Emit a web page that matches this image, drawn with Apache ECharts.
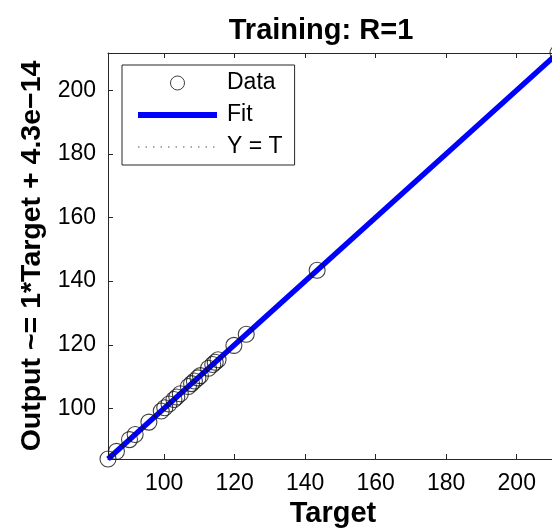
<!DOCTYPE html>
<html>
<head>
<meta charset="utf-8">
<script src="https://cdn.jsdelivr.net/npm/echarts@6/dist/echarts.min.js"></script>
<style>
html,body{margin:0;padding:0;background:#fff;}
#main{width:552px;height:528px;}
</style>
</head>
<body>
<div id="main"></div>
<script>
// ---- data ----
const titleText = 'Training: R=1';
const xName = 'Target';
const yName = 'Output ~= 1*Target + 4.3e\u221214';
const legendNames = ['Data', 'Fit', 'Y = T'];
const targets = [84.1, 86.5, 90.2, 91.8, 95.7, 99.2, 100.2, 101.4, 102.8, 103.6, 104.6, 106.9, 107.8, 108.6, 109.6, 110.3, 112.6, 113.8, 114.5, 115.3, 119.8, 123.3, 143.4, 211.7];
const outputs = [84.1, 86.5, 90.2, 91.8, 95.7, 99.2, 100.2, 101.4, 102.8, 103.6, 104.6, 106.9, 107.8, 108.6, 109.6, 110.3, 112.6, 113.8, 114.5, 115.3, 119.8, 123.3, 143.4, 211.7];
const fitSlope = 1;
const fitIntercept = 4.3e-14;

// ---- derived ----
const lo = Math.min(...targets, ...outputs);
const hi = Math.max(...targets, ...outputs);
const tMin = Math.min(...targets), tMax = Math.max(...targets);
const scatterData = targets.map((t, i) => [t, outputs[i]]);
const fitData = [[tMin, fitSlope * tMin + fitIntercept], [tMax, fitSlope * tMax + fitIntercept]];
const ytData = [[lo, lo], [hi, hi]];

const FONT = '"Liberation Sans", Arial, sans-serif';
const AX = '#262626';
const tickFmt = v => (Math.abs(v / 20 - Math.round(v / 20)) < 1e-6 ? String(Math.round(v)) : '');

const chart = echarts.init(document.getElementById('main'), null, {renderer: 'canvas'});
chart.setOption({
  animation: false,
  backgroundColor: '#fff',
  title: {
    text: titleText,
    left: 316, top: 11, textAlign: 'center',
    textStyle: {fontFamily: FONT, fontSize: 29, fontWeight: 'bold', color: '#000'}
  },
  legend: {
    orient: 'vertical',
    left: 122, top: 65,
    padding: [6, 12, 6, 13],
    itemWidth: 79, itemHeight: 14, itemGap: 8,
    backgroundColor: '#fff',
    borderColor: '#262626', borderWidth: 1, borderRadius: 0,
    selectedMode: false,
    textStyle: {fontFamily: FONT, fontSize: 23, color: '#000', lineHeight: 24, padding: [0, 0, 0, 5]},
    data: [
      {name: legendNames[0], icon: 'circle', itemStyle: {color: 'rgba(0,0,0,0)', borderColor: '#111', borderWidth: 1}},
      {name: legendNames[1], itemStyle: {opacity: 0}, lineStyle: {color: '#0000ff', width: 6}},
      {name: legendNames[2], itemStyle: {opacity: 0}, lineStyle: {color: '#555', width: 1, type: [1.5, 6]}}
    ]
  },
  grid: {left: 108, top: 53, bottom: 69, right: -6, containLabel: false, outerBoundsMode: 'none'},
  xAxis: [{
    type: 'value', min: lo, max: hi, splitNumber: 6,
    name: xName, nameLocation: 'middle', nameGap: 39,
    nameTextStyle: {fontFamily: FONT, fontSize: 29, fontWeight: 'bold', color: '#000'},
    axisLine: {show: true, lineStyle: {color: AX, width: 1}},
    axisTick: {show: true, inside: true, length: 5, lineStyle: {color: AX}},
    axisLabel: {fontFamily: FONT, fontSize: 23, color: '#000', margin: 13, formatter: tickFmt, showMinLabel: false, showMaxLabel: false},
    splitLine: {show: false}
  }, {
    type: 'value', position: 'top', min: lo, max: hi, splitNumber: 6,
    axisLine: {show: true, lineStyle: {color: AX, width: 1}},
    axisTick: {show: true, inside: true, length: 5, lineStyle: {color: AX}},
    axisLabel: {show: false},
    splitLine: {show: false}
  }],
  yAxis: [{
    type: 'value', min: lo, max: hi, splitNumber: 6,
    name: yName, nameLocation: 'middle', nameGap: 61, nameRotate: 90,
    nameTextStyle: {fontFamily: FONT, fontSize: 28.5, fontWeight: 'bold', color: '#000'},
    axisLine: {show: true, lineStyle: {color: AX, width: 1}},
    axisTick: {show: true, inside: true, length: 5, lineStyle: {color: AX}},
    axisLabel: {fontFamily: FONT, fontSize: 23, color: '#000', margin: 12, formatter: tickFmt, showMinLabel: false, showMaxLabel: false},
    splitLine: {show: false}
  }],
  series: [
    {
      name: legendNames[2], type: 'line', data: ytData, symbol: 'none', silent: true, z: 2,
      lineStyle: {color: '#000', width: 1, type: [1.5, 6]}, itemStyle: {color: '#000'}
    },
    {
      name: legendNames[1], type: 'line', data: fitData, symbol: 'none', silent: true, z: 3,
      lineStyle: {color: '#0000ff', width: 5.5}, itemStyle: {color: '#0000ff'}
    },
    {
      name: legendNames[0], type: 'scatter', data: scatterData, symbol: 'circle', symbolSize: 16,
      clip: false, silent: true, z: 4,
      itemStyle: {color: 'rgba(0,0,0,0)', borderColor: '#111', borderWidth: 1.1}
    }
  ]
});
</script>
</body>
</html>
